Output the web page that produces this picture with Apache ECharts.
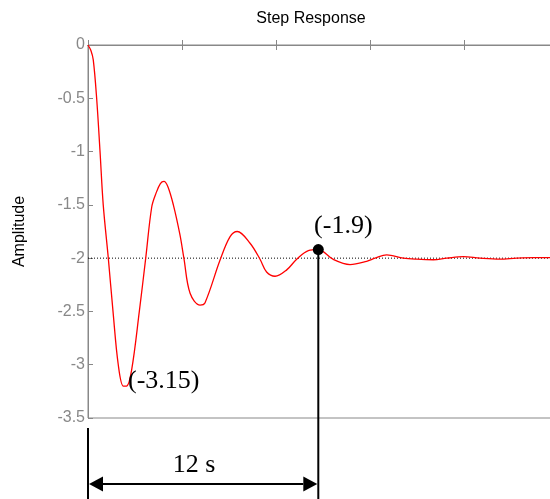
<!DOCTYPE html>
<html>
<head>
<meta charset="utf-8">
<script src="https://cdn.jsdelivr.net/npm/echarts@6/dist/echarts.min.js"></script>
<style>
html,body{margin:0;padding:0;background:#fff;overflow:hidden;}
#chart{width:550px;height:499px;}
</style>
</head>
<body>
<div id="chart"></div>
<script>
// Time (s) and amplitude
const timeS = [0, 0.15, 0.28, 0.46, 0.64, 0.81, 1.08, 1.33, 1.61, 1.88, 2.05, 2.32, 2.73, 3.07, 3.39, 3.62, 3.85, 4.04, 4.25, 4.54, 4.89, 5.1, 5.43, 5.96, 6.22, 7.02, 7.55, 7.94, 8.62, 9.15, 9.5, 9.95, 10.57, 11.1, 11.72, 12.25, 13.03, 13.94, 14.82, 15.27, 15.89, 16.77, 17.48, 18.37, 19.08, 19.96, 20.85, 21.9, 22.8, 23.7, 25];
const amplitude = [0, -0.05, -0.14, -0.5, -1.0, -1.5, -2.0, -2.5, -3.0, -3.2, -3.2, -3.05, -2.5, -2.0, -1.52, -1.39, -1.3, -1.28, -1.33, -1.5, -1.78, -2.0, -2.33, -2.44, -2.42, -2.02, -1.80, -1.75, -1.86, -2.01, -2.13, -2.17, -2.11, -2.01, -1.93, -1.92, -2.01, -2.06, -2.03, -2.0, -1.97, -2.0, -2.01, -2.015, -2.0, -1.985, -2.0, -2.01, -2.0, -1.995, -1.995];
const finalValue = -2;
const peakPoint = [12.25, -1.92];
const peakLabel = '(-1.9)';
const minLabel = '(-3.15)';
const minLabelPos = [2.13, -3.15];
const spanLabel = '12 s';
const titleText = 'Step Response';
const yName = 'Amplitude';

const chart = echarts.init(document.getElementById('chart'));
const axisGray = '#888888';
const sans = 'Liberation Sans, Arial, sans-serif';
const serif = "'Liberation Serif', 'Times New Roman', serif";

chart.setOption({
  animation: false,
  title: {
    text: titleText,
    left: 306, top: 6, textAlign: 'center',
    textStyle: {fontFamily: sans, fontSize: 16, fontWeight: 'normal', color: '#000'}
  },
  grid: {left: 88, top: 45, width: 470, bottom: 81, show: true, borderColor: axisGray, borderWidth: 1, outerBoundsMode: 'none', containLabel: false},
  xAxis: [{
    type: 'value', min: 0, max: 25, interval: 5, position: 'bottom',
    axisLine: {show: true, lineStyle: {color: axisGray, width: 1}},
    axisTick: {show: true, inside: true, length: 5, lineStyle: {color: axisGray}},
    axisLabel: {show: false}, splitLine: {show: false}
  }, {
    type: 'value', min: 0, max: 25, interval: 5, position: 'top',
    axisLine: {show: true, lineStyle: {color: axisGray, width: 1}},
    axisTick: {show: true, inside: true, length: 5, lineStyle: {color: axisGray}},
    axisLabel: {show: false}, splitLine: {show: false}
  }],
  yAxis: {
    type: 'value', min: -3.5, max: 0, interval: 0.5,
    name: yName, nameLocation: 'middle', nameGap: 60, nameRotate: 90,
    nameTextStyle: {fontFamily: sans, fontSize: 16, color: '#000'},
    axisLine: {show: true, lineStyle: {color: axisGray, width: 1}},
    axisTick: {show: true, inside: true, length: 5, lineStyle: {color: axisGray}},
    axisLabel: {fontFamily: sans, fontSize: 16, color: axisGray, margin: 3},
    splitLine: {show: false}
  },
  series: [{
    type: 'line', xAxisIndex: 0,
    data: [[0, finalValue], [25, finalValue]],
    symbol: 'none', silent: true,
    lineStyle: {color: '#000', width: 1, type: [1, 2]}
  }, {
    type: 'line', xAxisIndex: 0,
    data: timeS.map((t, i) => [t, amplitude[i]]),
    symbol: 'none', smooth: 0.35,
    lineStyle: {color: '#ff0000', width: 1.3}
  }, {
    type: 'scatter', xAxisIndex: 0,
    data: [peakPoint], symbolSize: 11,
    itemStyle: {color: '#000', opacity: 1}, z: 5
  }]
});

function px(p) { return chart.convertToPixel({xAxisIndex: 0, yAxisIndex: 0}, p); }
const p0 = px([0, -3.5]);
const pk = px(peakPoint);
const ml = px(minLabelPos);
const H = 499;
const arrowY = 484;
const lw = 2;
const ah = 15, aw = 7.5;

chart.setOption({
  graphic: [
    {type: 'line', shape: {x1: p0[0], y1: p0[1] + 10, x2: p0[0], y2: H}, style: {stroke: '#000', lineWidth: lw}, z: 10},
    {type: 'line', shape: {x1: pk[0], y1: pk[1], x2: pk[0], y2: H}, style: {stroke: '#000', lineWidth: lw}, z: 10},
    {type: 'line', shape: {x1: p0[0] + ah, y1: arrowY, x2: pk[0] - ah, y2: arrowY}, style: {stroke: '#000', lineWidth: lw}, z: 10},
    {type: 'polygon', shape: {points: [[p0[0] + 1, arrowY], [p0[0] + ah, arrowY - aw], [p0[0] + ah, arrowY + aw]]}, style: {fill: '#000'}, z: 10},
    {type: 'polygon', shape: {points: [[pk[0] - 1, arrowY], [pk[0] - ah, arrowY - aw], [pk[0] - ah, arrowY + aw]]}, style: {fill: '#000'}, z: 10},
    {type: 'text', x: p0[0] + 106, y: 465, style: {text: spanLabel, font: '26px ' + serif, fill: '#000', textAlign: 'center', textVerticalAlign: 'middle'}, z: 10},
    {type: 'text', x: ml[0], y: ml[1], style: {text: minLabel, font: '26px ' + serif, fill: '#000', textAlign: 'left', textVerticalAlign: 'middle'}, z: 10},
    {type: 'text', x: pk[0] + 25, y: pk[1] - 23, style: {text: peakLabel, font: '26px ' + serif, fill: '#000', textAlign: 'center', textVerticalAlign: 'middle'}, z: 10}
  ]
});
</script>
</body>
</html>
